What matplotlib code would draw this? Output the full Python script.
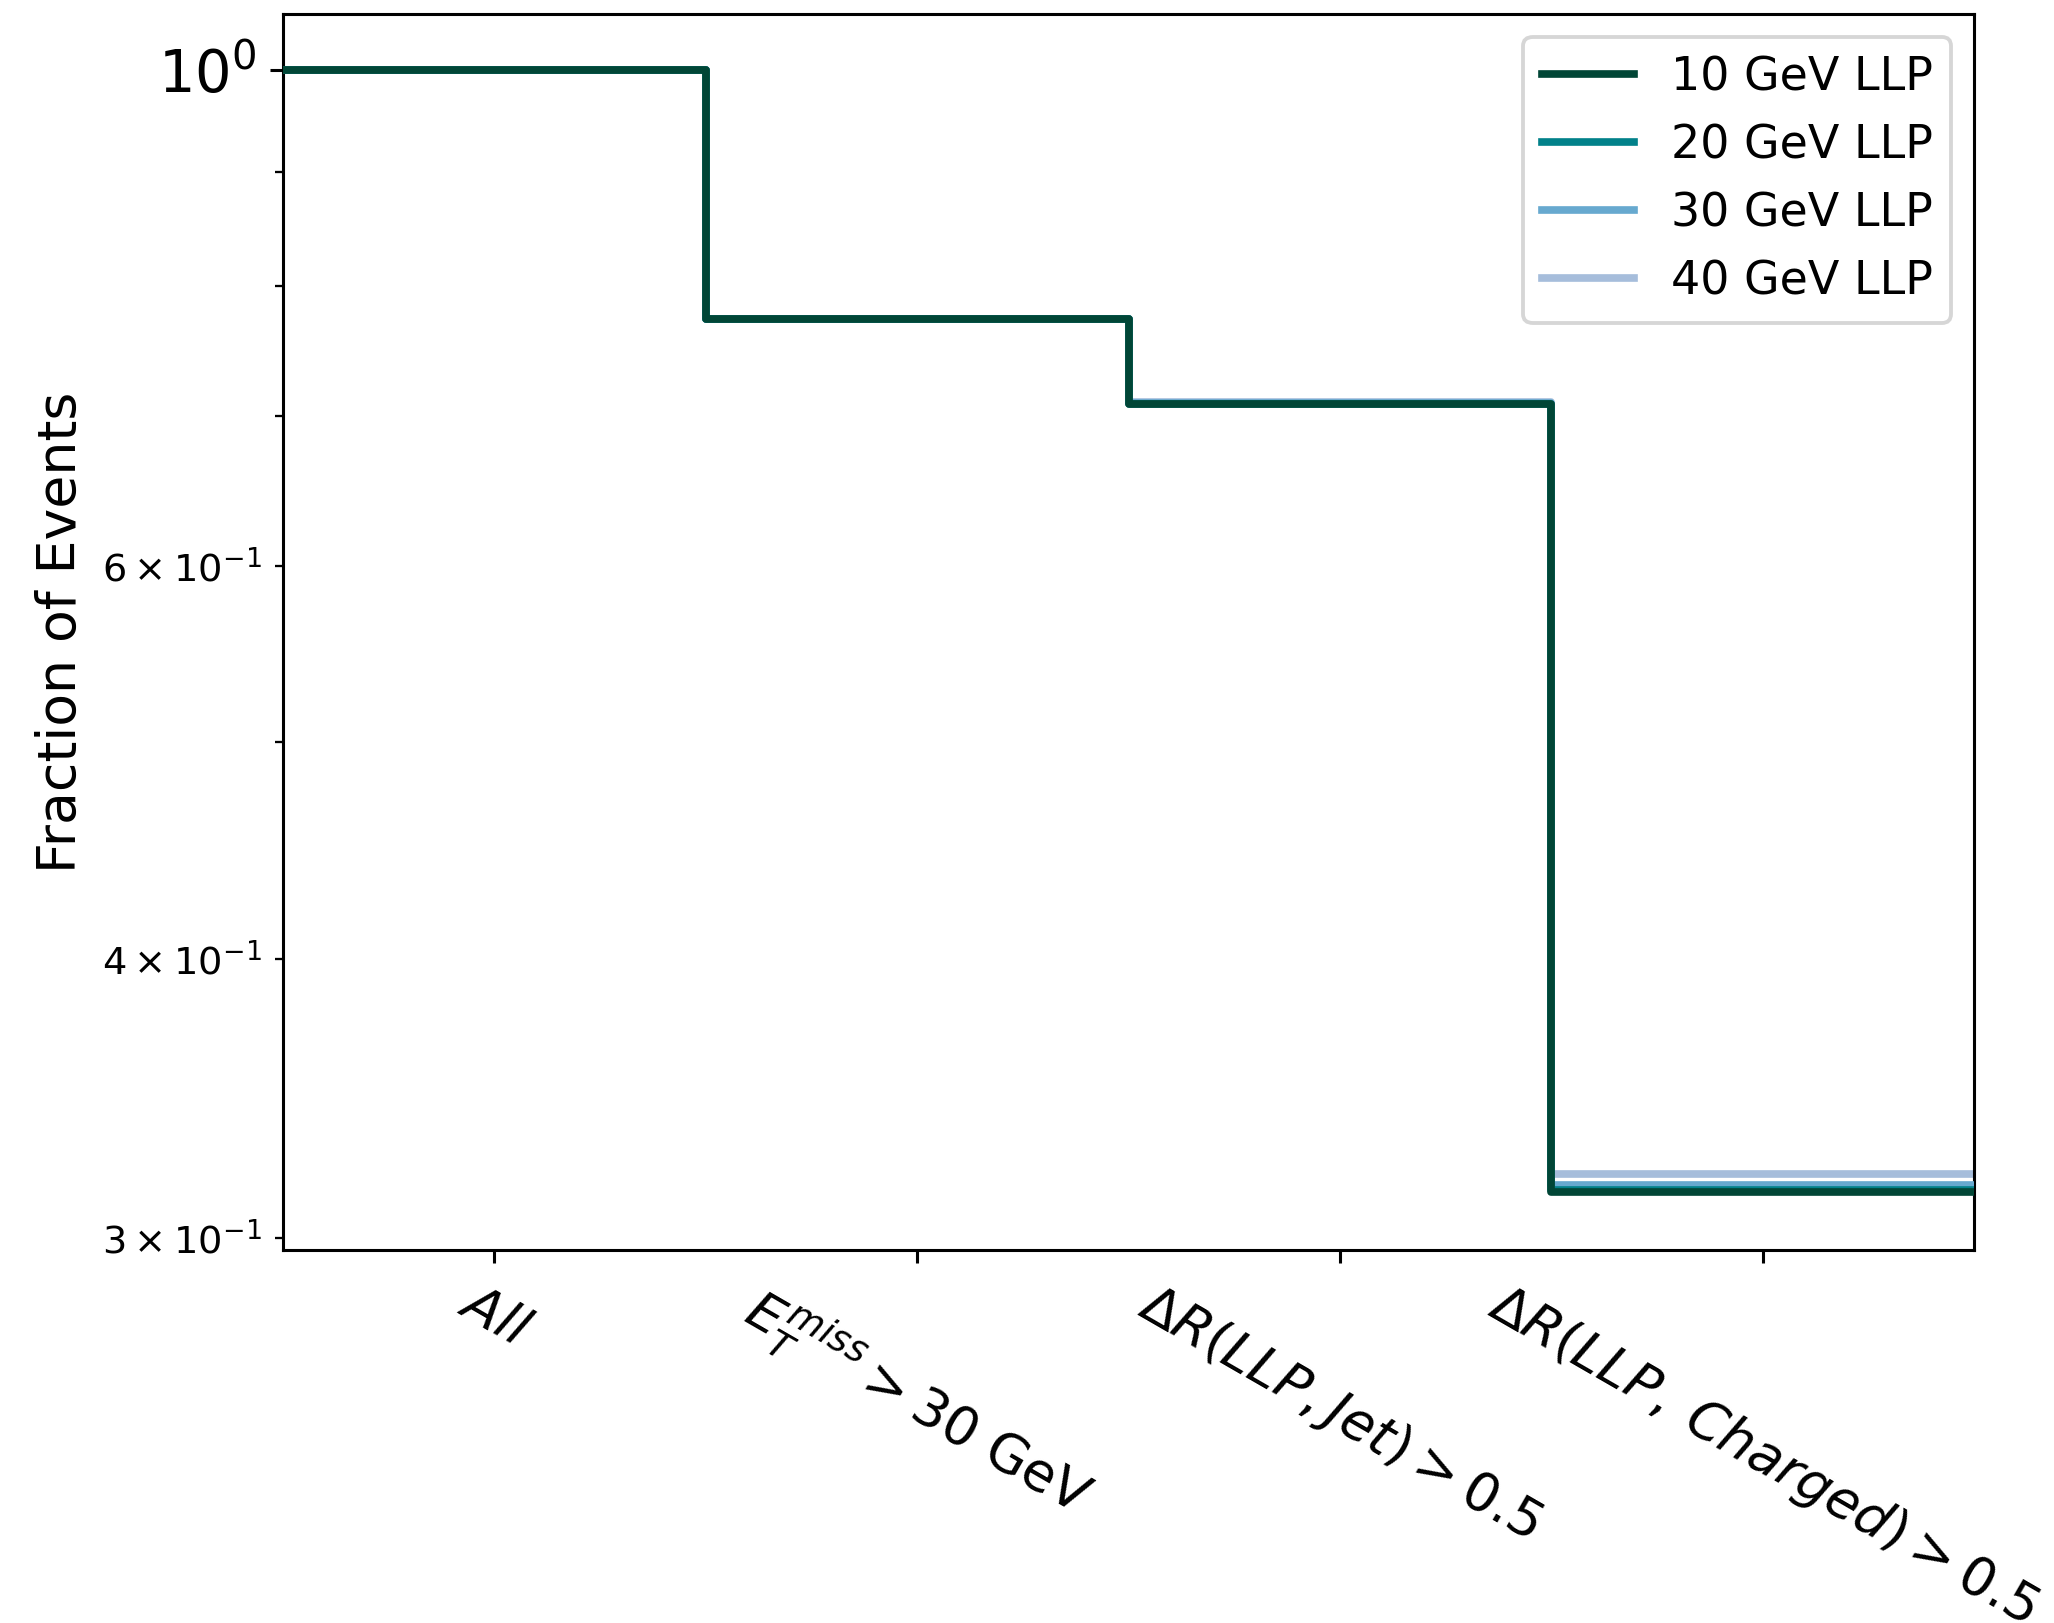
import matplotlib
matplotlib.use("Agg")
import matplotlib.pyplot as plt
import numpy as np

# cut flow, fraction of events surviving each selection
cuts = [r"$All$", r"$E_T^{miss} > 30$ GeV", r"$\Delta R(LLP,Jet) > 0.5$", r"$\Delta R(LLP,\:Charged) > 0.5$"]
labels = ["10 GeV LLP", "20 GeV LLP", "30 GeV LLP", "40 GeV LLP"]
colors = ["#014636", "#02818a", "#67a9cf", "#a6bddb"]

frac_10 = [1.0, 0.7737, 0.7085, 0.3144]
frac_20 = [1.0, 0.7737, 0.7088, 0.3151]
frac_30 = [1.0, 0.7737, 0.7098, 0.3167]
frac_40 = [1.0, 0.7737, 0.7100, 0.3203]
fracs = [frac_10, frac_20, frac_30, frac_40]

dpi = 276
fig = plt.figure(figsize=(2054 / dpi, 1623 / dpi), dpi=dpi)
ax = fig.add_axes([283 / 2054, 1 - 1250 / 1623, (1974 - 283) / 2054, (1250 - 14) / 1623])

edges = np.arange(len(cuts) + 1)
centers = edges[:-1] + 0.5
for i, (vals, lab) in enumerate(zip(fracs, labels)):
	# repeat the last value so the step runs to the right edge
	ax.step(edges, np.append(vals, vals[-1]), where="post",
			color=colors[i], linewidth=2, label=lab, zorder=5 - i)

ax.set_yscale("log")
ax.set_xlim(edges[0], edges[-1])
ax.set_ylim(0.2963, 1.0594)
ax.set_xticks(centers)
ax.set_xticklabels(cuts, rotation=-30, fontsize=14)
ax.tick_params(axis="y", which="major", labelsize=15)
ax.tick_params(axis="y", which="minor", labelsize=10)
ax.set_ylabel("Fraction of Events", fontsize=14)
ax.legend(loc="upper right", fontsize=12)

fig.savefig("out.png", dpi=dpi)
